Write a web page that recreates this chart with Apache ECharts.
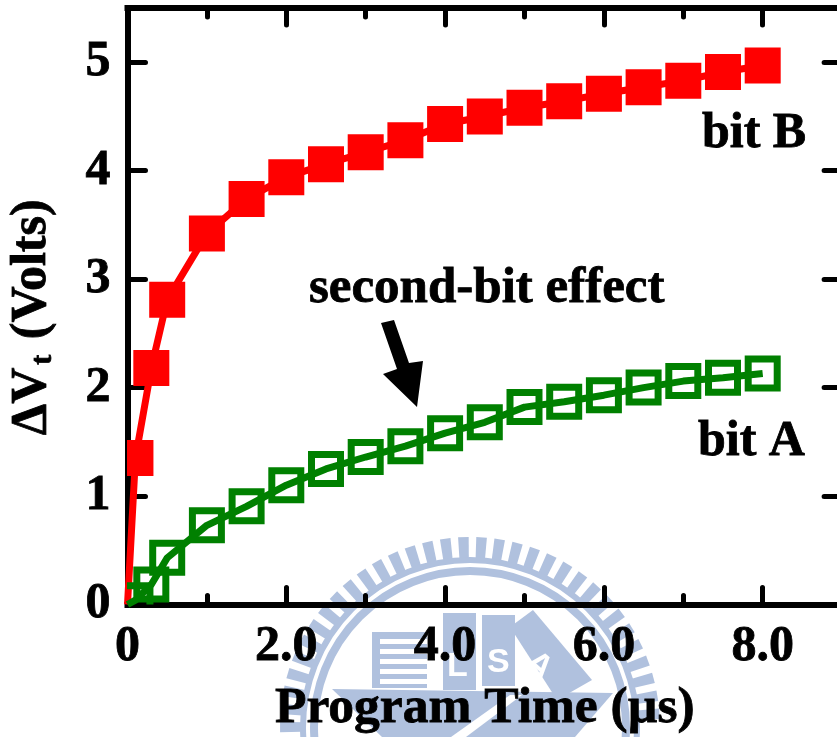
<!DOCTYPE html>
<html><head><meta charset="utf-8">
<style>html,body{margin:0;padding:0;background:#fff}#c{width:837px;height:737px}</style>
<script src="https://cdn.jsdelivr.net/npm/echarts@6/dist/echarts.min.js"></script>
</head><body><div id="c"></div>
<script>
const xTickLabels = {0:'0',2:'2.0',4:'4.0',6:'6.0',8:'8.0'};
const yTickLabels = ['0','1','2','3','4','5'];
const times = [0,0.1,0.3,0.5,1,1.5,2,2.5,3,3.5,4,4.5,5,5.5,6,6.5,7,7.5,8];
const bitB = [0,1.35,2.18,2.81,3.42,3.74,3.94,4.06,4.17,4.28,4.43,4.5,4.58,4.64,4.71,4.77,4.83,4.91,4.97];
const bitA = [0,0.04,0.185,0.43,0.73,0.905,1.1,1.25,1.36,1.46,1.58,1.68,1.82,1.87,1.93,2.0,2.06,2.09,2.13];
const xTitle = 'Program Time (µs)';
const font = '"Liberation Serif"';
const seal = '#b0c1de';

const pair = (ys) => times.map((t,i)=>[t,ys[i]]);
const chart = echarts.init(document.getElementById('c'),null,{renderer:'canvas'});

// decorative seal behind the plot
const cx=470, cy=727, g=[];
for(let a=-180;a<=0;a+=5.5){
  const r=a*Math.PI/180, w=1.6*Math.PI/180, R1=190, R0=168;
  g.push({type:'polygon',silent:true,z:0,shape:{points:[
    [cx+R0*Math.cos(r-w),cy+R0*Math.sin(r-w)],[cx+R1*Math.cos(r-w),cy+R1*Math.sin(r-w)],
    [cx+R1*Math.cos(r+w),cy+R1*Math.sin(r+w)],[cx+R0*Math.cos(r+w),cy+R0*Math.sin(r+w)]]},style:{fill:seal}});
}
g.push({type:'circle',silent:true,z:0,shape:{cx,cy,r:167},style:{fill:'none',stroke:seal,lineWidth:6}});
g.push({type:'circle',silent:true,z:0,shape:{cx,cy,r:156},style:{fill:'none',stroke:seal,lineWidth:8}});
g.push({type:'rect',silent:true,z:0,shape:{x:372,y:632,width:55,height:56},style:{fill:seal}});
for(let i=0;i<5;i++) g.push({type:'rect',silent:true,z:0,shape:{x:380,y:639+i*10,width:47,height:5},style:{fill:'#fff'}});
g.push({type:'rect',silent:true,z:0,shape:{x:443,y:613,width:33,height:77},style:{fill:seal}});
g.push({type:'rect',silent:true,z:0,shape:{x:482,y:615,width:33,height:71},style:{fill:seal}});
g.push({type:'polygon',silent:true,z:0,shape:{points:[[510,627],[533,610],[592,680],[557,700]]},style:{fill:seal}});
g.push({type:'polygon',silent:true,z:0,shape:{points:[[332,689],[613,693],[575,737],[382,737]]},style:{fill:seal}});
g.push({type:'polygon',silent:true,z:0,shape:{points:[[451,737],[510,695],[522,695],[466,737]]},style:{fill:'#fff'}});
g.push({type:'text',silent:true,z:0,x:447,y:650,style:{text:'L',fill:'#fff',font:'bold 34px "Liberation Sans"'}});
g.push({type:'text',silent:true,z:0,x:487,y:646,style:{text:'S',fill:'#fff',font:'bold 34px "Liberation Sans"'}});
g.push({type:'text',silent:true,z:0,x:540,y:645,rotation:-0.7,style:{text:'A',fill:'#fff',font:'bold 34px "Liberation Sans"'}});

// annotations (y is the top of the text box)
const txt=(t,x,y,s)=>({type:'text',z:10,x,y,style:{text:t,fill:'#000',font:'bold '+s+'px '+font,stroke:'#000',lineWidth:0.8}});
g.push(txt('bit B',702,109,50), txt('bit A',698,417,50), txt('second-bit effect',309,263,51));
g.push({type:'polygon',z:10,shape:{points:[[381,323],[394,320],[409,363],[423,361],[417,407],[383,374],[397,369]]},style:{fill:'#000'}});

const axisLine={show:true,onZero:false,lineStyle:{color:'#000',width:6,cap:'square'}};
const tick=(len)=>({show:true,inside:true,length:len,lineStyle:{color:'#000',width:5,cap:'round'}});
const minor={show:true,splitNumber:2,length:9,lineStyle:{color:'#000',width:5,cap:'round'}};
const labelStyle={fontFamily:font,fontWeight:'bold',fontSize:50,color:'#000',textBorderColor:'#000',textBorderWidth:0.8};

// square markers are drawn by custom series so that the grid clips them at the axes
const squares=(ys,name,size,style)=>({name,type:'custom',data:pair(ys).slice(1),clip:true,z:5,
  encode:{x:0,y:1},
  renderItem:(p,api)=>{const c=api.coord([api.value(0),api.value(1)]);
    return {type:'rect',shape:{x:c[0]-size/2,y:c[1]-size/2,width:size,height:size},style};}});

chart.setOption({
  animation:false,
  backgroundColor:'#fff',
  graphic:g,
  grid:{left:127.5,top:8,width:714.6,height:596.5,containLabel:false,outerBoundsMode:'none'},
  xAxis:[
    {type:'value',min:0,max:9,interval:2,position:'bottom',axisLine,axisTick:tick(17),minorTick:minor,splitLine:{show:false},minorSplitLine:{show:false},
     axisLabel:{...labelStyle,margin:18,hideOverlap:false,showMinLabel:true,showMaxLabel:false,formatter:v=>xTickLabels[v]||''},
     name:xTitle,nameLocation:'middle',nameGap:78,nameTextStyle:{...labelStyle,fontSize:51.5}},
    {type:'value',min:0,max:9,interval:2,position:'top',axisLine,axisTick:tick(17),minorTick:minor,splitLine:{show:false},axisLabel:{show:false}}
  ],
  yAxis:[
    {type:'value',min:0,max:5.5,interval:1,position:'left',axisLine,axisTick:tick(18),splitLine:{show:false},
     axisLabel:{...labelStyle,margin:17,showMaxLabel:false,formatter:v=>yTickLabels[v]||''},
     name:'{a|ΔV}{t|t}{a| (Volts)}',nameLocation:'middle',nameGap:69,
     nameTextStyle:{padding:[0,22,0,0],rich:{a:{...labelStyle,fontSize:50,verticalAlign:'middle'},t:{...labelStyle,fontSize:30,padding:[22,3,0,3]}}}},
    {type:'value',min:0,max:5.5,interval:1,position:'right',axisLine,axisTick:tick(18),splitLine:{show:false},axisLabel:{show:false}}
  ],
  series:[
    {name:'bit B line',type:'line',data:pair(bitB),symbol:'none',z:3,lineStyle:{color:'#ff0000',width:7}},
    squares(bitB,'bit B',36,{fill:'#ff0000'}),
    {name:'bit A line',type:'line',data:pair(bitA),symbol:'none',z:6,lineStyle:{color:'#008000',width:7}},
    squares(bitA,'bit A',29,{fill:'none',stroke:'#008000',lineWidth:7})
  ]
});
</script></body></html>
